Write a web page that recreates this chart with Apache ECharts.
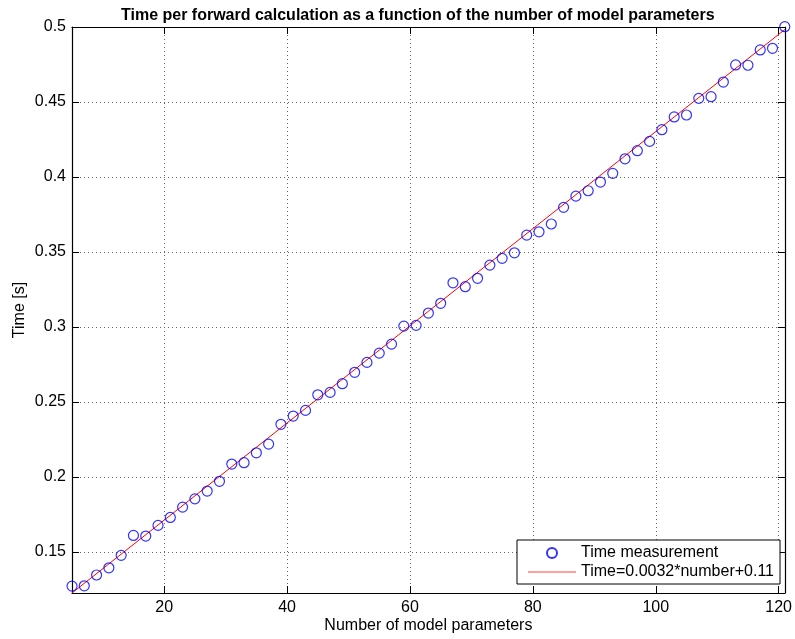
<!DOCTYPE html>
<html>
<head>
<meta charset="utf-8">
<script src="https://cdn.jsdelivr.net/npm/echarts@6/dist/echarts.min.js"></script>
<style>
html,body{margin:0;padding:0;background:#fff;}
#chart{width:795px;height:639px;}
</style>
</head>
<body>
<div id="chart"></div>
<script>
// Measured data: number of model parameters vs. time per forward calculation [s]
const paramCounts = [5,7,9,11,13,15,17,19,21,23,25,27,29,31,33,35,37,39,41,43,45,47,49,51,53,55,57,59,61,63,65,67,69,71,73,75,77,79,81,83,85,87,89,91,93,95,97,99,101,103,105,107,109,111,113,115,117,119,121];
const timeValues = [0.1271,0.1273,0.1345,0.1393,0.1476,0.1609,0.1605,0.1676,0.1729,0.1798,0.1853,0.1905,0.1970,0.2085,0.2094,0.2160,0.2218,0.2350,0.2405,0.2443,0.2547,0.2563,0.2621,0.2697,0.2763,0.2825,0.2885,0.3005,0.3010,0.3092,0.3157,0.3294,0.3268,0.3324,0.3412,0.3457,0.3494,0.3612,0.3634,0.3686,0.3797,0.3872,0.3908,0.3966,0.4024,0.4121,0.4175,0.4237,0.4315,0.4400,0.4413,0.4524,0.4535,0.4633,0.4747,0.4745,0.4847,0.4858,0.5002];
// Fitted line end points
const fitX = [5, 121];
const fitY = [0.1225, 0.4983];
// Tick labels
const xTicks = [20, 40, 60, 80, 100, 120];
const yTicks = [0.15, 0.2, 0.25, 0.3, 0.35, 0.4, 0.45, 0.5];

const FONT = 'Liberation Sans';
const FS = 16;
const chart = echarts.init(document.getElementById('chart'), null, {renderer: 'canvas'});

const scatterData = paramCounts.map((x, i) => [x, timeValues[i]]);
const fitData = fitX.map((x, i) => [x, fitY[i]]);

const xRange = {min: 5, max: 121};
const yRange = {min: 0.1225, max: 0.5};

function baseAxisX(extra) {
  return Object.assign({
    type: 'value', min: xRange.min, max: xRange.max,
    axisLine: {show: true, onZero: false, lineStyle: {color: '#000', width: 1.2}},
    axisTick: {show: true, inside: true, length: 7, customValues: xTicks, lineStyle: {color: '#000', width: 1}},
    axisLabel: {show: false, customValues: xTicks},
    splitLine: {show: false}
  }, extra);
}
function baseAxisY(extra) {
  return Object.assign({
    type: 'value', min: yRange.min, max: yRange.max,
    axisLine: {show: true, onZero: false, lineStyle: {color: '#000', width: 1.2}},
    axisTick: {show: true, inside: true, length: 7, customValues: yTicks, lineStyle: {color: '#000', width: 1}},
    axisLabel: {show: false, customValues: yTicks},
    splitLine: {show: false}
  }, extra);
}

const option = {
  animation: false,
  backgroundColor: '#fff',
  textStyle: {fontFamily: FONT},
  title: {
    text: 'Time per forward calculation as a function of the number of model parameters',
    left: 116, top: 3,
    textStyle: {fontFamily: FONT, fontWeight: 'bold', fontSize: FS, color: '#000'}
  },
  grid: {left: 72, right: 7, top: 27, bottom: 46, containLabel: false},
  xAxis: [
    baseAxisX({
      position: 'bottom',
      name: 'Number of model parameters',
      nameLocation: 'middle', nameGap: 25, nameMoveOverlap: false,
      nameTextStyle: {fontFamily: FONT, fontSize: FS, color: '#000'},
      axisLabel: {show: true, customValues: xTicks, margin: 7, fontFamily: FONT, fontSize: FS, color: '#000'},
      splitLine: {show: true, lineStyle: {color: '#666', width: 1, type: [1, 3]}}
    }),
    baseAxisX({position: 'top'})
  ],
  yAxis: [
    baseAxisY({
      position: 'left',
      name: 'Time [s]',
      nameLocation: 'middle', nameGap: 44, nameMoveOverlap: false,
      nameTextStyle: {fontFamily: FONT, fontSize: FS, color: '#000'},
      axisLabel: {show: true, customValues: yTicks, margin: 6, fontFamily: FONT, fontSize: FS, color: '#000',
        formatter: v => String(+v.toFixed(2))},
      splitLine: {show: true, lineStyle: {color: '#666', width: 1, type: [1, 3]}}
    }),
    baseAxisY({position: 'right'})
  ],
  legend: {
    orient: 'vertical',
    left: 517, top: 540,
    padding: [5, 6, 4, 11],
    itemGap: 3,
    itemWidth: 48, itemHeight: 10,
    backgroundColor: '#fff',
    borderColor: '#000', borderWidth: 1,
    textStyle: {fontFamily: FONT, fontSize: FS, color: '#000'},
    data: [
      {name: 'Time measurement'},
      {name: 'Time=0.0032*number+0.11', icon: 'path://M0,0H48V1.2H0Z', itemStyle: {color: '#ff4040'}}
    ]
  },
  series: [
    {
      name: 'Time measurement',
      type: 'scatter',
      data: scatterData,
      symbol: 'circle', symbolSize: 10,
      clip: false,
      itemStyle: {color: 'rgba(0,0,0,0)', borderColor: '#0000ff', borderWidth: 1.2},
      z: 3
    },
    {
      name: 'Time=0.0032*number+0.11',
      type: 'line',
      data: fitData,
      symbol: 'none', showSymbol: false,
      lineStyle: {color: '#ff0000', width: 1},
      itemStyle: {color: '#ff0000'},
      z: 2
    }
  ]
};
chart.setOption(option);
</script>
</body>
</html>
